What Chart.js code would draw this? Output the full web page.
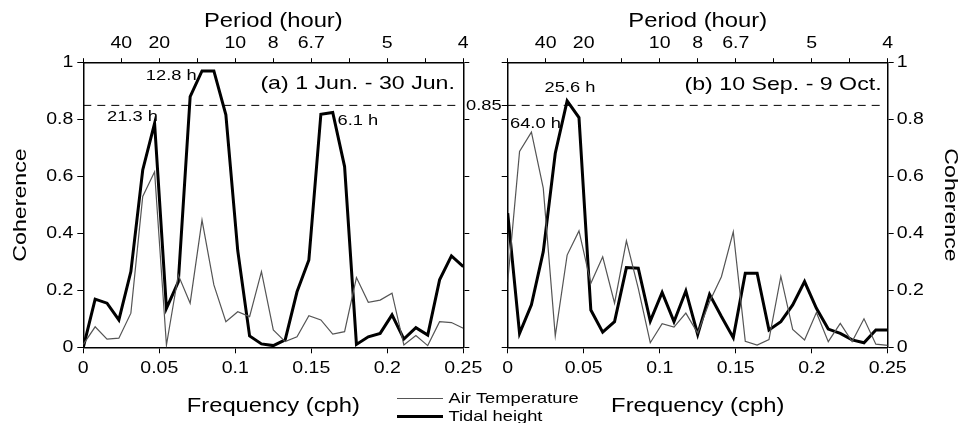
<!DOCTYPE html>
<html><head><meta charset="utf-8">
<script src="https://cdn.jsdelivr.net/npm/chart.js@4.4.1/dist/chart.umd.min.js"></script>
<style>
html,body{margin:0;padding:0;background:#fff;width:961px;height:423px;overflow:hidden}
canvas{position:absolute;left:0;top:0}
</style></head><body>
<canvas id="c1" width="961" height="423"></canvas>
<canvas id="c2" width="961" height="423"></canvas>
<script>
// ---- data ----
const frequencies = [0, 0.0078, 0.0156, 0.0234, 0.0313, 0.0391, 0.0469, 0.0547, 0.0625, 0.0703, 0.0781, 0.0859, 0.0938, 0.1016, 0.1094, 0.1172, 0.125, 0.1328, 0.1406, 0.1484, 0.1563, 0.1641, 0.1719, 0.1797, 0.1875, 0.1953, 0.2031, 0.2109, 0.2188, 0.2266, 0.2344, 0.2422, 0.25];
const junAirTemperature = [0.01, 0.072, 0.029, 0.032, 0.12, 0.53, 0.617, 0.008, 0.254, 0.155, 0.447, 0.219, 0.09, 0.125, 0.108, 0.266, 0.061, 0.02, 0.037, 0.111, 0.096, 0.046, 0.055, 0.245, 0.158, 0.166, 0.19, 0.008, 0.041, 0.006, 0.09, 0.087, 0.067];
const junTidalHeight = [0, 0.169, 0.155, 0.096, 0.266, 0.623, 0.787, 0.137, 0.23, 0.881, 0.971, 0.971, 0.817, 0.34, 0.04, 0.012, 0.006, 0.026, 0.195, 0.307, 0.819, 0.825, 0.635, 0.01, 0.037, 0.049, 0.114, 0.029, 0.069, 0.043, 0.237, 0.321, 0.283];
const sepAirTemperature = [0.23, 0.688, 0.756, 0.559, 0.04, 0.324, 0.409, 0.225, 0.318, 0.155, 0.374, 0.207, 0.016, 0.083, 0.071, 0.12, 0.05, 0.16, 0.248, 0.406, 0.021, 0.008, 0.027, 0.249, 0.063, 0.026, 0.122, 0.02, 0.084, 0.02, 0.1, 0.011, 0.007];
const sepTidalHeight = [0.471, 0.049, 0.149, 0.336, 0.682, 0.866, 0.807, 0.131, 0.053, 0.09, 0.28, 0.278, 0.092, 0.193, 0.09, 0.198, 0.045, 0.186, 0.108, 0.034, 0.26, 0.26, 0.061, 0.09, 0.149, 0.231, 0.137, 0.064, 0.049, 0.026, 0.016, 0.061, 0.061];
const thresholdLevel = 0.85;
const thresholdSpan = [0, 0.245];
const coherenceTicks = [0, 0.2, 0.4, 0.6, 0.8, 1];
const coherenceTickLabels = ['0', '0.2', '0.4', '0.6', '0.8', '1'];
const frequencyTicks = [0, 0.05, 0.1, 0.15, 0.2, 0.25];
const frequencyTickLabels = ['0', '0.05', '0.1', '0.15', '0.2', '0.25'];
const periodTicks = [0, 0.025, 0.05, 0.075, 0.1, 0.125, 0.15, 0.175, 0.2, 0.225, 0.25];
const periodTickLabels = ['', '40', '20', '', '10', '8', '6.7', '', '5', '', '4'];
const seriesNames = ['Air Temperature', 'Tidal height'];
const panelTitles = ['(a) 1 Jun. - 30 Jun.', '(b) 10 Sep. - 9 Oct.'];
const peakLabelsA = ['12.8 h', '21.3 h', '6.1 h'];
const peakLabelsB = ['25.6 h', '64.0 h'];

// ---- text placement (data-space anchors) ----
const annotA = [
  {t: peakLabelsA[0], x: 0.0746, y: 0.954, al: 'right'},
  {t: peakLabelsA[1], x: 0.0324, y: 0.811, al: 'center'},
  {t: peakLabelsA[2], x: 0.1673, y: 0.797, al: 'left'},
];
const annotB = [
  {t: peakLabelsB[0], x: 0.041, y: 0.911, al: 'center'},
  {t: peakLabelsB[1], x: 0.0015, y: 0.785, al: 'left'},
];

const SX = 1.22;
const FONT = '"Liberation Sans", Arial, Helvetica, sans-serif';
function drawText(ctx, s, x, y, size, align, base, rot) {
  ctx.save();
  ctx.translate(x, y);
  if (rot) ctx.rotate(rot);
  ctx.scale(SX, 1);
  ctx.font = size + 'px ' + FONT;
  ctx.textAlign = align;
  ctx.textBaseline = base;
  ctx.fillStyle = '#000';
  ctx.fillText(s, 0, 0);
  ctx.restore();
}

function pts(arr) { return frequencies.map((f, i) => ({x: f, y: arr[i]})); }

function axisCommon(extra) {
  return Object.assign({
    type: 'linear', min: 0,
    grid: {display: true, drawOnChartArea: false, drawTicks: true, tickLength: 6, color: '#000', tickColor: '#000', lineWidth: 1},
    border: {display: true, color: '#000', width: 1.5},
    ticks: {display: false},
  }, extra);
}

function makeChart(id, air, tidal, side, leftW, rightW, annots, title) {
  const plugin = {
    id: 'txt' + side,
    afterDraw(chart) {
      const ctx = chart.ctx, a = chart.chartArea;
      const xs = chart.scales.x, ys = chart.scales.y, xt = chart.scales.xt;
      frequencyTicks.forEach((v, i) => drawText(ctx, frequencyTickLabels[i], xs.getPixelForValue(v), a.bottom + 21, 16, 'center', 'middle'));
      periodTicks.forEach((v, i) => { if (periodTickLabels[i]) drawText(ctx, periodTickLabels[i], xt.getPixelForValue(v), a.top - 19, 16, 'center', 'middle'); });
      const cx = (a.left + a.right) / 2;
      drawText(ctx, 'Period (hour)', cx, a.top - 41.5, 19.5, 'center', 'middle');
      drawText(ctx, 'Frequency (cph)', cx, a.bottom + 64.5, 19.5, 'center', 'alphabetic');
      if (side === 'left') {
        coherenceTicks.forEach((v, i) => drawText(ctx, coherenceTickLabels[i], a.left - 10, ys.getPixelForValue(v), 16, 'right', 'middle'));
        drawText(ctx, 'Coherence', a.left - 63, (a.top + a.bottom) / 2, 19, 'center', 'middle', -Math.PI / 2);
        // legend
        const lx0 = 397, lx1 = 443, lt = 448.5;
        ctx.save();
        ctx.strokeStyle = '#555'; ctx.lineWidth = 1.2;
        ctx.beginPath(); ctx.moveTo(lx0, 398.5); ctx.lineTo(lx1, 398.5); ctx.stroke();
        ctx.strokeStyle = '#000'; ctx.lineWidth = 3;
        ctx.beginPath(); ctx.moveTo(lx0, 416.5); ctx.lineTo(lx1, 416.5); ctx.stroke();
        ctx.restore();
        drawText(ctx, seriesNames[0], lt, 398.5, 15, 'left', 'middle');
        drawText(ctx, seriesNames[1], lt, 417, 15, 'left', 'middle');
      } else {
        coherenceTicks.forEach((v, i) => drawText(ctx, coherenceTickLabels[i], a.right + 9, ys.getPixelForValue(v), 16, 'left', 'middle'));
        drawText(ctx, 'Coherence', a.right + 62.5, (a.top + a.bottom) / 2, 19, 'center', 'middle', Math.PI / 2);
        drawText(ctx, String(thresholdLevel), a.left - 6, ys.getPixelForValue(thresholdLevel), 15, 'right', 'middle');
      }
      annots.forEach(o => drawText(ctx, o.t, xs.getPixelForValue(o.x), ys.getPixelForValue(o.y), 15, o.al, 'middle'));
      drawText(ctx, title.t, xs.getPixelForValue(title.x), ys.getPixelForValue(title.y), 19, 'right', 'middle');
    }
  };
  const innerTicks = side === 'left' ? coherenceTicks : coherenceTicks.concat([thresholdLevel]);
  return new Chart(document.getElementById(id), {
    type: 'line',
    data: {
      datasets: [
        {label: 'threshold', data: thresholdSpan.map(x => ({x, y: thresholdLevel})), borderColor: '#000', borderWidth: 1, borderDash: [8, 6], pointRadius: 0, fill: false},
        {label: seriesNames[0], data: pts(air), borderColor: '#555', borderWidth: 1.2, pointRadius: 0, tension: 0, fill: false, borderJoinStyle: 'miter'},
        {label: seriesNames[1], data: pts(tidal), borderColor: '#000', borderWidth: 3, pointRadius: 0, tension: 0, fill: false, borderJoinStyle: 'miter'},
      ]
    },
    options: {
      responsive: false, animation: false, devicePixelRatio: 1,
      layout: {padding: 0},
      plugins: {legend: {display: false}, tooltip: {enabled: false}},
      scales: {
        x: axisCommon({position: 'bottom', max: 0.25,
          afterBuildTicks: s => { s.ticks = frequencyTicks.map(v => ({value: v})); },
          afterFit: s => { s.height = 423 - 347.3; }}),
        xt: axisCommon({position: 'top', max: 0.25, grid: {display: true, drawOnChartArea: false, drawTicks: true, tickLength: 4.5, color: '#000', tickColor: '#000', lineWidth: 1},
          afterBuildTicks: s => { s.ticks = periodTicks.map(v => ({value: v})); },
          afterFit: s => { s.height = 62.7; }}),
        y: axisCommon({position: 'left', max: 1,
          afterBuildTicks: s => { s.ticks = (side === 'left' ? coherenceTicks : innerTicks).map(v => ({value: v})); },
          afterFit: s => { s.width = leftW; }}),
        y2: axisCommon({position: 'right', max: 1,
          afterBuildTicks: s => { s.ticks = coherenceTicks.map(v => ({value: v})); },
          afterFit: s => { s.width = rightW; }}),
      }
    },
    plugins: [plugin]
  });
}

makeChart('c1', junAirTemperature, junTidalHeight, 'left', 83.3, 961 - 463.3, annotA, {t: panelTitles[0], x: 0.2445, y: 0.925});
makeChart('c2', sepAirTemperature, sepTidalHeight, 'right', 507.7, 961 - 887.7, annotB, {t: panelTitles[1], x: 0.246, y: 0.922});
</script>
</body></html>
